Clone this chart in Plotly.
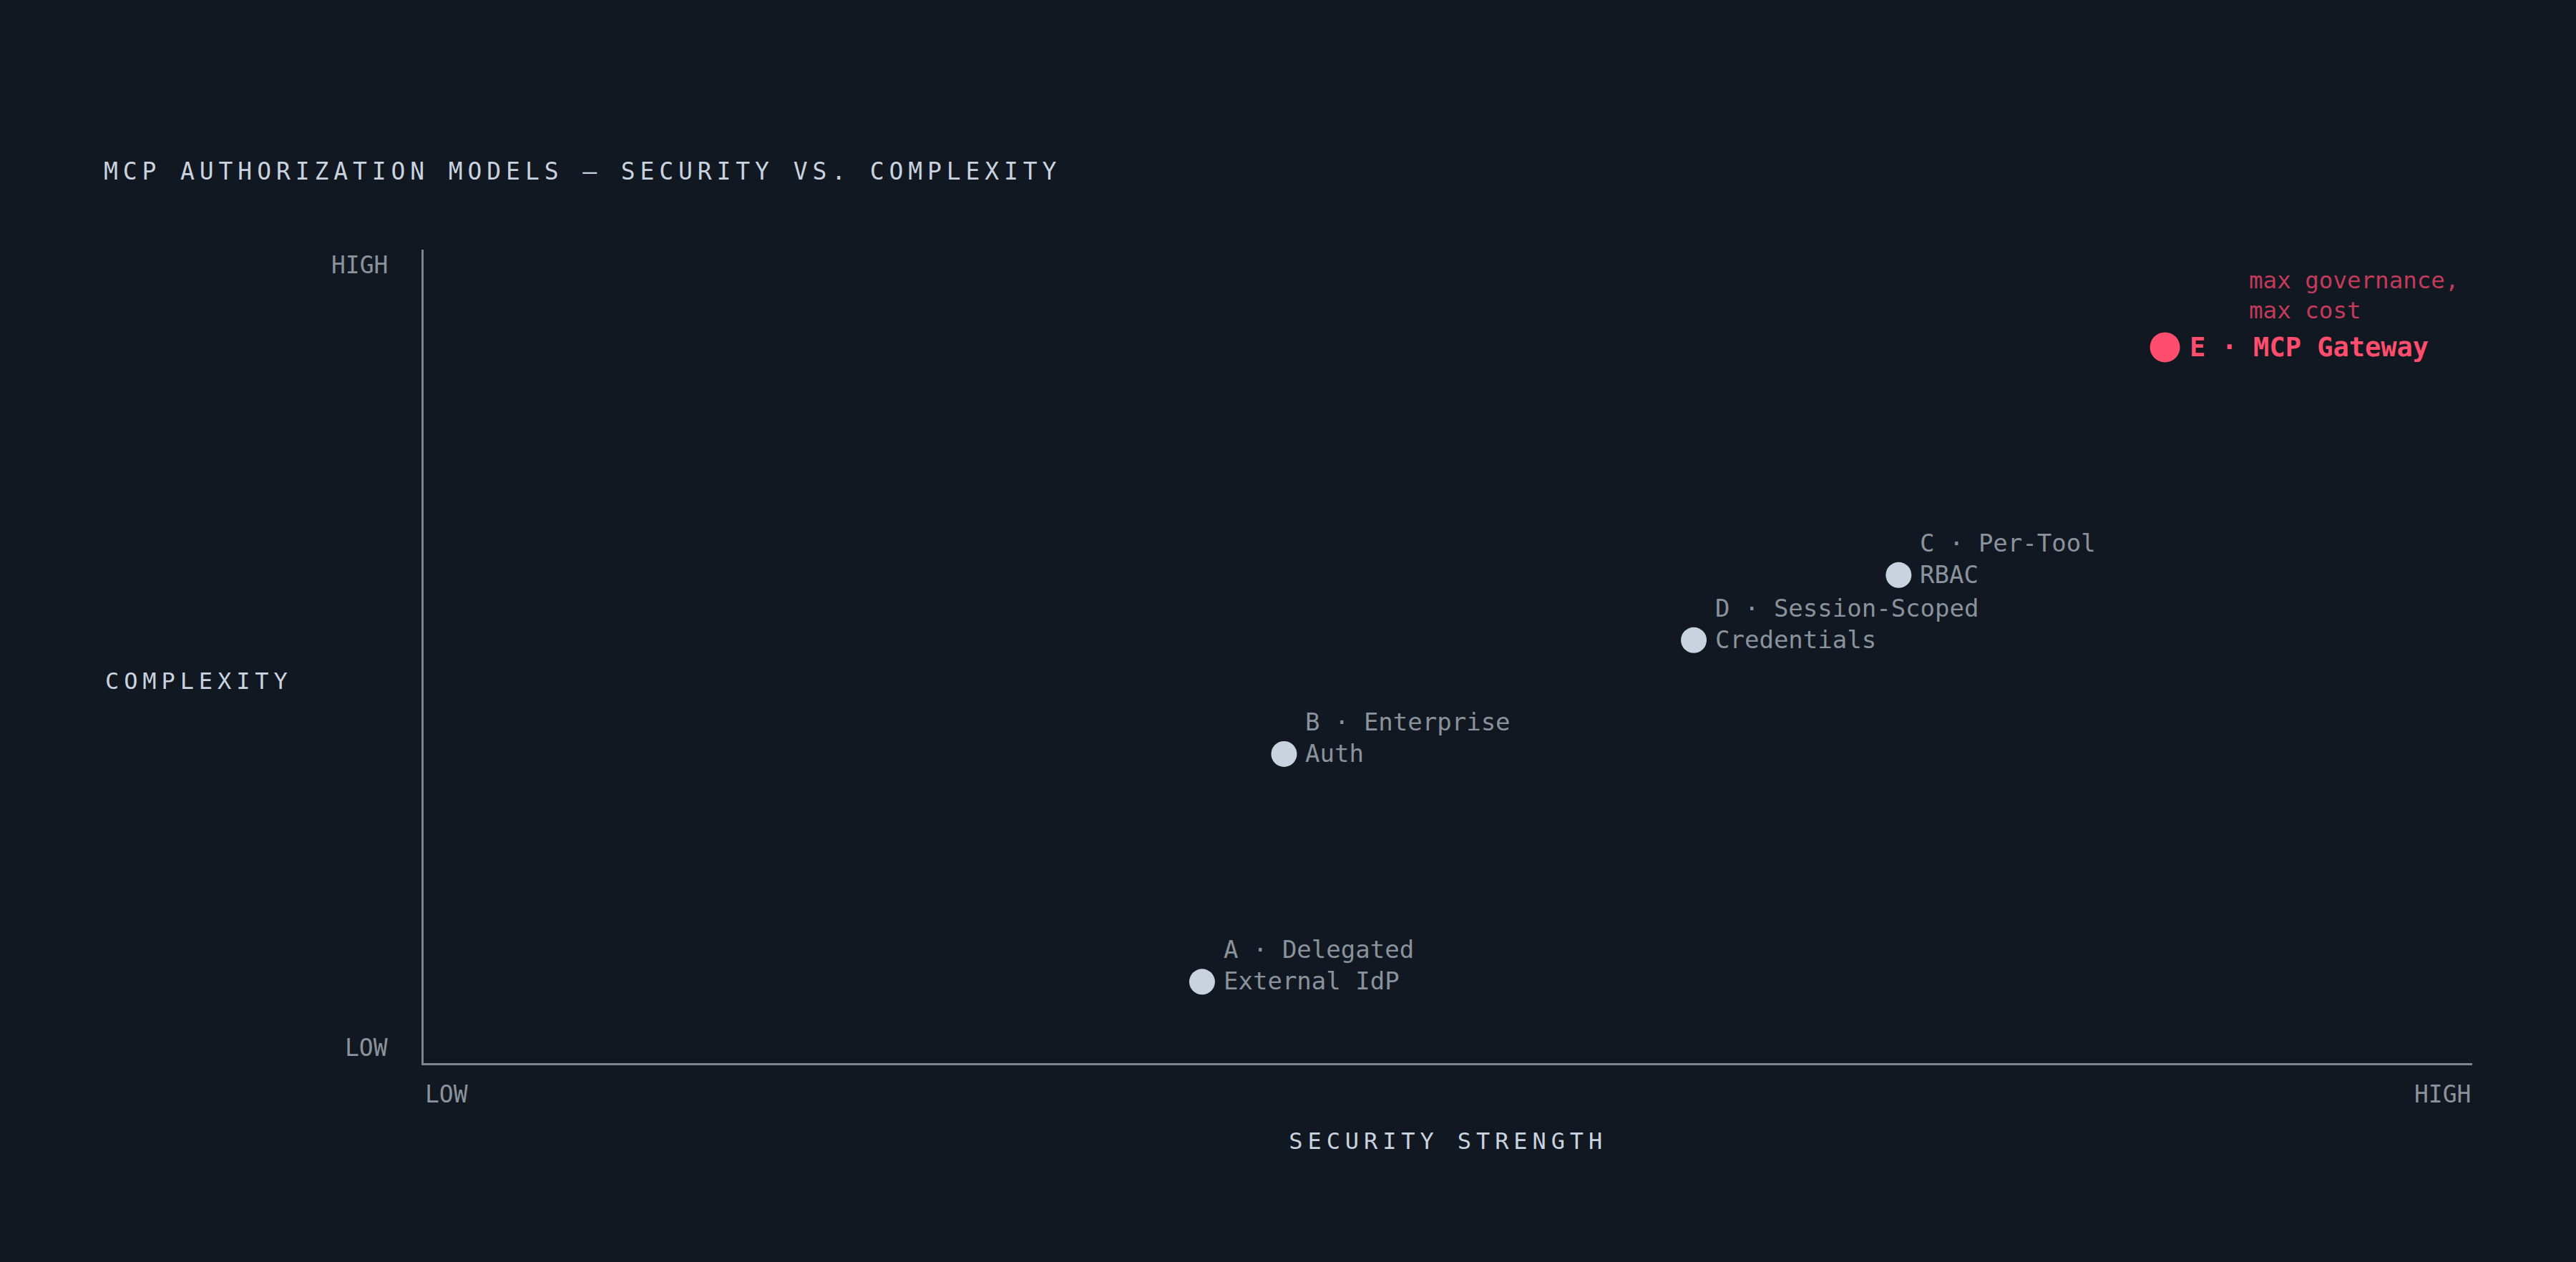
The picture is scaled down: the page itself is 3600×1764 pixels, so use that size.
import json
import plotly.graph_objects as go

# authorization models, positioned on a 0-100 security / complexity scale
models = ["A", "B", "C", "D", "E"]
security = [38, 42, 72, 62, 85]
complexity = [10, 38, 60, 52, 88]
label_top = ["A · Delegated", "B · Enterprise", "C · Per-Tool", "D · Session-Scoped", ""]
label_bottom = ["External IdP", "Auth", "RBAC", "Credentials", "E · MCP Gateway"]
highlight_note = "max governance,<br>max cost"

axis_ticks = ["LOW", "HIGH"]
chart_title = "MCP AUTHORIZATION MODELS — SECURITY VS. COMPLEXITY"
x_title = "SECURITY STRENGTH"
y_title = "COMPLEXITY"

BG = "#111821"
DOT = "#c8d3df"
GREY = "#8a929c"
LIGHT = "#c9d3df"
RED = "#ff4d6d"
RED_DIM = "#c23b5b"
FONT = "DejaVu Sans Mono"

fig = go.Figure()

plain = [i for i, m in enumerate(models) if m != "E"]
fig.add_trace(go.Scatter(
    x=[security[i] for i in plain], y=[complexity[i] for i in plain],
    mode="markers", marker=dict(size=36, color=DOT, line=dict(width=0)),
    hoverinfo="skip", showlegend=False))

e = models.index("E")
fig.add_trace(go.Scatter(
    x=[security[e]], y=[complexity[e]],
    mode="markers", marker=dict(size=42, color=RED, line=dict(width=0)),
    hoverinfo="skip", showlegend=False))

for i in plain:
    fig.add_annotation(x=security[i], y=complexity[i], xref="x", yref="y",
                       text=label_top[i] + "<br>" + label_bottom[i],
                       showarrow=False, xanchor="left", yanchor="middle", align="left",
                       xshift=28, yshift=23, font=dict(family=FONT, size=34, color=GREY))

fig.add_annotation(x=security[e], y=complexity[e], text="<b>" + label_bottom[e] + "</b>",
                   showarrow=False, xanchor="left", yanchor="middle", xshift=32,
                   font=dict(family=FONT, size=37, color=RED))
fig.add_annotation(x=security[e], y=complexity[e], text=highlight_note,
                   showarrow=False, xanchor="left", yanchor="bottom", align="left",
                   xshift=115, yshift=30, font=dict(family=FONT, size=32.5, color=RED_DIM))

# axis end labels
tick_font = dict(family=FONT, size=33, color=GREY)
fig.add_annotation(x=0, y=0, xref="x", yref="paper", text=axis_ticks[0], showarrow=False,
                   xanchor="left", yanchor="top", yshift=-22, font=tick_font)
fig.add_annotation(x=100, y=0, xref="x", yref="paper", text=axis_ticks[1], showarrow=False,
                   xanchor="right", yanchor="top", yshift=-22, font=tick_font)
fig.add_annotation(x=0, y=0, xref="paper", yref="y", text=axis_ticks[0], showarrow=False,
                   xanchor="right", yanchor="bottom", xshift=-48, font=tick_font)
fig.add_annotation(x=0, y=100, xref="paper", yref="y", text=axis_ticks[1], showarrow=False,
                   xanchor="right", yanchor="top", xshift=-48, font=tick_font)

title_font = dict(family=FONT, size=32, color=LIGHT)
fig.add_annotation(x=0.5, y=0, xref="paper", yref="paper", text=x_title,
                   showarrow=False, xanchor="center", yanchor="top", yshift=-88, font=title_font)
# y-axis title, horizontal at the left edge
fig.add_annotation(x=-447 / 2863, y=0.47, xref="paper", yref="paper", text=y_title,
                   showarrow=False, xanchor="left", yanchor="middle", align="left",
                   font=title_font)

fig.update_layout(
    width=3600, height=1764,
    paper_bgcolor=BG, plot_bgcolor=BG,
    margin=dict(l=592, r=145, t=349, b=278),
    showlegend=False,
    title=dict(text=chart_title,
               x=145 / 3600, xanchor="left", y=1 - 239 / 1764, yanchor="middle",
               font=dict(family=FONT, size=33, color=LIGHT)),
    xaxis=dict(range=[0, 100], showgrid=False, zeroline=False, showticklabels=False,
               ticks="", showline=True, linecolor="#7d858f", linewidth=3),
    yaxis=dict(range=[0, 100], showgrid=False, zeroline=False, showticklabels=False,
               ticks="", showline=True, linecolor="#7d858f", linewidth=3),
)

# tracked caps for the title and axis titles, and no page margin
spaced = json.dumps([chart_title, x_title, y_title])
post = """
document.body.style.margin = '0';
document.body.style.background = '%s';
var spaced = %s;
document.querySelectorAll('svg text').forEach(function (t) {
  if (spaced.indexOf(t.textContent) >= 0) { t.style.letterSpacing = '6.9px'; }
});
""" % (BG, spaced)

fig.write_html("out.html", post_script=post, config={"displayModeBar": False})
